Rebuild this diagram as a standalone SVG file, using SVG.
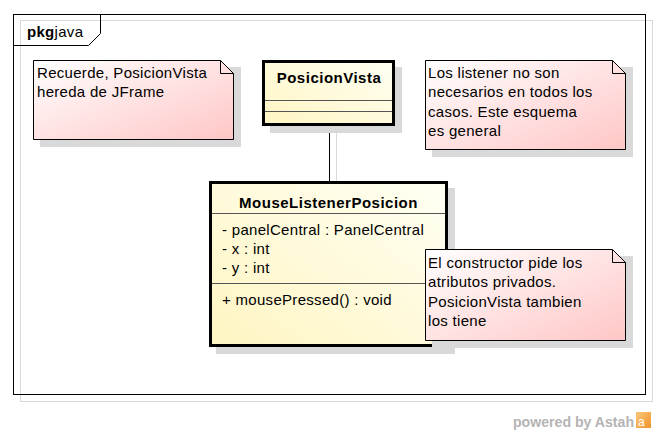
<svg xmlns="http://www.w3.org/2000/svg" width="658" height="434" viewBox="0 0 658 434">
<defs>
<linearGradient id="noteGrad" x1="0" y1="0" x2="1" y2="1">
<stop offset="0" stop-color="#ffffff"/>
<stop offset="1" stop-color="#ffc6c6"/>
</linearGradient>
<linearGradient id="classGrad" x1="1" y1="0" x2="0" y2="1">
<stop offset="0" stop-color="#fffff4"/>
<stop offset="1" stop-color="#fff5c2"/>
</linearGradient>
<linearGradient id="logoGrad" x1="0" y1="0" x2="1" y2="1">
<stop offset="0" stop-color="#f9c77a"/>
<stop offset="1" stop-color="#f0932b"/>
</linearGradient>
</defs>
<style>
text{font-family:"Liberation Sans",Arial,sans-serif;fill:#000}
.t{font-size:15px;letter-spacing:0.3px}
.b{font-size:15px;font-weight:bold;letter-spacing:0.5px}
.shadow{fill:#d9d9d9;stroke:none}
.note{fill:url(#noteGrad);stroke:#000;stroke-width:1}
.fold{fill:none;stroke:#000;stroke-width:1}
.cls{fill:url(#classGrad);stroke:#000;stroke-width:3}
.sep{stroke:#555;stroke-width:1}
.conn{stroke:#000;stroke-width:1;fill:none}
.connShadow{stroke:#d9d9d9;stroke-width:1;fill:none}
</style>
<rect x="0" y="0" width="658" height="434" fill="#ffffff"/>

<g id="frame">
<rect x="20.5" y="20.5" width="632" height="381" fill="none" stroke="#d9d9d9" stroke-width="1"/>
<rect x="13.5" y="14.5" width="632" height="380" fill="none" stroke="#000" stroke-width="1"/>
<path d="M13.5,45.5 H88.5 L100.5,33.5 V14.5" fill="none" stroke="#000" stroke-width="1"/>
<text x="27" y="37" class="t"><tspan font-weight="bold">pkg</tspan>java</text>
</g>

<g id="connectors">
<line class="connShadow" x1="336.5" y1="133" x2="336.5" y2="181"/>
<line class="conn" x1="329.5" y1="125" x2="329.5" y2="182"/>
</g>

<g id="note-recuerde">
<rect class="shadow" x="40" y="67" width="201" height="80"/>
<path class="note" d="M33.5,60.5 H220.5 L233.5,73.5 V139.5 H33.5 Z"/>
<path class="fold" d="M220.5,60.5 V73.5 H233.5"/>
<text class="t" x="37" y="78">Recuerde, PosicionVista</text>
<text class="t" x="37" y="97">hereda de JFrame</text>
</g>

<g id="class-PosicionVista">
<rect class="shadow" x="270" y="67" width="132" height="66"/>
<rect class="cls" x="263.5" y="61.5" width="130" height="63"/>
<line class="sep" x1="265" y1="100.5" x2="392" y2="100.5"/>
<line class="sep" x1="265" y1="111.5" x2="392" y2="111.5"/>
<text class="b" x="329" y="83" text-anchor="middle">PosicionVista</text>
</g>

<g id="note-listener">
<rect class="shadow" x="432" y="67" width="201" height="90"/>
<path class="note" d="M425.5,60.5 H612.5 L625.5,73.5 V149.5 H425.5 Z"/>
<path class="fold" d="M612.5,60.5 V73.5 H625.5"/>
<text class="t" x="428" y="78">Los listener no son</text>
<text class="t" x="428" y="97">necesarios en todos los</text>
<text class="t" x="428" y="117">casos. Este esquema</text>
<text class="t" x="428" y="136">es general</text>
</g>

<g id="class-MouseListenerPosicion">
<rect class="shadow" x="216" y="188" width="239" height="166"/>
<rect class="cls" x="210.5" y="182.5" width="236" height="163"/>
<line class="sep" x1="212" y1="213.5" x2="445" y2="213.5"/>
<line class="sep" x1="212" y1="283.5" x2="445" y2="283.5"/>
<text class="b" x="328.5" y="208" text-anchor="middle">MouseListenerPosicion</text>
<text class="t" x="222" y="235">- panelCentral : PanelCentral</text>
<text class="t" x="222" y="254">- x : int</text>
<text class="t" x="222" y="273">- y : int</text>
<text class="t" x="222" y="305">+ mousePressed() : void</text>
</g>

<g id="note-constructor">
<rect class="shadow" x="432" y="256" width="201" height="92"/>
<path class="note" d="M425.5,249.5 H612.5 L625.5,262.5 V340.5 H425.5 Z"/>
<path class="fold" d="M612.5,249.5 V262.5 H625.5"/>
<text class="t" x="428" y="268">El constructor pide los</text>
<text class="t" x="428" y="287">atributos privados.</text>
<text class="t" x="428" y="307">PosicionVista tambien</text>
<text class="t" x="428" y="326">los tiene</text>
</g>

<g id="watermark">
<text x="513" y="427" font-size="14" font-weight="bold" style="fill:#b4b4b4" textLength="121" lengthAdjust="spacingAndGlyphs">powered by Astah</text>
<rect x="636" y="412" width="15" height="16" fill="url(#logoGrad)"/>
<text x="638" y="426" font-size="12" style="fill:#ffffff">a</text>
</g>
</svg>
